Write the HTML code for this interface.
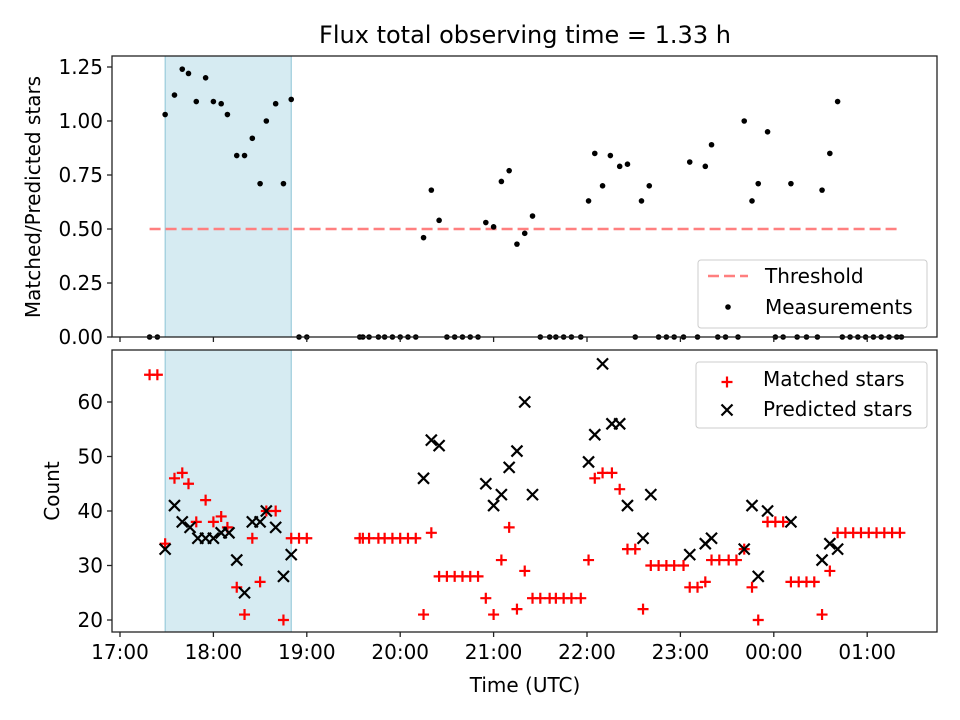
<!DOCTYPE html>
<html><head><meta charset="utf-8"><style>
body{margin:0;background:#fff}
svg{display:block;font-family:"DejaVu Sans","Liberation Sans",sans-serif}
</style></head><body>
<svg id="chart" width="960" height="720" viewBox="0 0 960 720"></svg>
<script>
// Time values in minutes since 17:00 UTC
const ratioZeroTimes=[19,24,115,120,154,156,160,166,170,175,180,185,190,210,215,220,225,230,270,276,280,285,290,296,331,346,351,356,362,371,384,389,397,421,426,435,441,448,464,469,474,479,484,489,494,499,502];
const ratioTimes=[29,35,40,44,49,55,60,65,69,75,80,85,90,94,100,105,110,195,200,205,235,240,245,250,255,260,265,301,305,310,315,321,326,335,340,366,376,380,401,406,410,416,431,451,456,461];
const ratioValues=[1.03,1.12,1.24,1.22,1.09,1.20,1.09,1.08,1.03,0.84,0.84,0.92,0.71,1.00,1.08,0.71,1.10,0.46,0.68,0.54,0.53,0.51,0.72,0.77,0.43,0.48,0.56,0.63,0.85,0.70,0.84,0.79,0.80,0.63,0.70,0.81,0.79,0.89,1.00,0.63,0.71,0.95,0.71,0.68,0.85,1.09];
const matchedTimes=[19,24,29,35,40,44,49,55,60,65,69,75,80,85,90,94,100,105,110,115,120,154,156,160,166,170,175,180,185,190,195,200,205,210,215,220,225,230,235,240,245,250,255,260,265,270,276,280,285,290,296,301,305,310,316,321,326,331,336,341,346,351,356,362,366,371,376,380,385,391,396,401,406,410,416,421,426,431,436,441,446,451,456,461,466,471,476,481,486,491,496,501];
const matchedValues=[65,65,34,46,47,45,38,42,38,39,37,26,21,35,27,40,40,20,35,35,35,35,35,35,35,35,35,35,35,35,21,36,28,28,28,28,28,28,24,21,31,37,22,29,24,24,24,24,24,24,24,31,46,47,47,44,33,33,22,30,30,30,30,30,26,26,27,31,31,31,31,33,26,20,38,38,38,27,27,27,27,21,29,36,36,36,36,36,36,36,36,36];
const predTimes=[29,35,40,45,50,55,60,65,70,75,80,85,90,94,100,105,110,195,200,205,235,240,245,250,255,260,265,301,305,310,316,321,326,336,341,366,376,380,401,406,410,416,431,451,456,461];
const predValues=[33,41,38,37,35,35,35,36,36,31,25,38,38,40,37,28,32,46,53,52,45,41,43,48,51,60,43,49,54,67,56,56,41,35,43,32,34,35,33,41,28,40,38,31,34,33];
const ratioTicks=[0,0.25,0.5,0.75,1.0,1.25];
const countTicks=[20,30,40,50,60];
const timeTicks=[0,60,120,180,240,300,360,420,480];
const timeTickLabels=["17:00","18:00","19:00","20:00","21:00","22:00","23:00","00:00","01:00"];
const threshold=0.5, thrStart=19, thrEnd=501, shadeStart=29, shadeEnd=110;

const NS="http://www.w3.org/2000/svg";
const svg=document.getElementById('chart');
function mk(tag,attrs,parent){const e=document.createElementNS(NS,tag);for(const k in attrs)e.setAttribute(k,attrs[k]);(parent||svg).appendChild(e);return e;}
const L=112,R=937;
const X=m=>120+m*93.4/60;
const Y1=v=>337-v*216;
const Y2=v=>620-(v-20)*5.45;
const T1=56,B1=337,T2=350,B2=632;
const FS=20;

const title=mk('text',{x:525,y:43,'text-anchor':'middle','font-size':'24'});title.textContent='Flux total observing time = 1.33 h';



[[T1,B1,'shade-top'],[T2,B2,'shade-bottom']].forEach(([t,b,n])=>{
 const r=mk('rect',{x:X(shadeStart),y:t,width:X(shadeEnd)-X(shadeStart),height:b-t,fill:'#add8e6','fill-opacity':'0.5',stroke:'#8cc4d6','stroke-width':'1'});
 
 
});

const th=mk('line',{x1:X(thrStart),x2:X(thrEnd),y1:Y1(threshold),y2:Y1(threshold),stroke:'#ff7f7f','stroke-width':'2.5','stroke-dasharray':'11,5'});



ratioTimes.forEach((t,i)=>{const c=mk('circle',{cx:X(t),cy:Y1(ratioValues[i]),r:2.8,fill:'#000'});
 
 });
ratioZeroTimes.forEach(t=>{const c=mk('circle',{cx:X(t),cy:Y1(0),r:2.8,fill:'#000'});
 
 });

matchedTimes.forEach((t,i)=>{const g=mk('path',{d:`M${X(t)-5.5},${Y2(matchedValues[i])}h11M${X(t)},${Y2(matchedValues[i])-5.5}v11`,stroke:'#f00','stroke-width':'2.2',fill:'none'});
 
 });
predTimes.forEach((t,i)=>{const x=X(t),y=Y2(predValues[i]);const g=mk('path',{d:`M${x-5.5},${y-5.5}l11,11M${x-5.5},${y+5.5}l11,-11`,stroke:'#000','stroke-width':'2.2',fill:'none'});
 
 });

[[T1,B1,'top-axes-frame'],[T2,B2,'bottom-axes-frame']].forEach(([t,b,n])=>{
 const r=mk('rect',{x:L,y:t,width:R-L,height:b-t,fill:'none',stroke:'#222','stroke-width':'1.3'});
 
 
});
timeTicks.forEach((m,i)=>{
 mk('line',{x1:X(m),x2:X(m),y1:B1,y2:B1+5,stroke:'#222','stroke-width':'1.3'});
 mk('line',{x1:X(m),x2:X(m),y1:B2,y2:B2+5,stroke:'#222','stroke-width':'1.3'});
 const tx=mk('text',{x:X(m),y:B2+27,'text-anchor':'middle','font-size':FS});tx.textContent=timeTickLabels[i];
 
 
});
ratioTicks.forEach(v=>{
 mk('line',{x1:L-5,x2:L,y1:Y1(v),y2:Y1(v),stroke:'#222','stroke-width':'1.3'});
 const tx=mk('text',{x:L-9,y:Y1(v)+7,'text-anchor':'end','font-size':FS});tx.textContent=v.toFixed(2);
 
 
});
countTicks.forEach(v=>{
 mk('line',{x1:L-5,x2:L,y1:Y2(v),y2:Y2(v),stroke:'#222','stroke-width':'1.3'});
 const tx=mk('text',{x:L-9,y:Y2(v)+7,'text-anchor':'end','font-size':FS});tx.textContent=v;
 
 
});
let a=mk('text',{x:525,y:692,'text-anchor':'middle','font-size':FS});a.textContent='Time (UTC)';


a=mk('text',{x:40,y:197,'text-anchor':'middle','font-size':FS,transform:'rotate(-90 40 197)'});a.textContent='Matched/Predicted stars';


a=mk('text',{x:59,y:491,'text-anchor':'middle','font-size':FS,transform:'rotate(-90 59 491)'});a.textContent='Count';



let lg=mk('rect',{x:698,y:260,width:229,height:68,rx:3,fill:'#fff','fill-opacity':'0.8',stroke:'#ccc'});


mk('line',{x1:708,x2:748,y1:276,y2:276,stroke:'#ff7f7f','stroke-width':'2.5','stroke-dasharray':'11,5'});
a=mk('text',{x:765,y:283,'font-size':FS});a.textContent='Threshold';


mk('circle',{cx:728,cy:307,r:2.8,fill:'#000'});
a=mk('text',{x:765,y:314,'font-size':FS});a.textContent='Measurements';



lg=mk('rect',{x:696,y:362,width:231,height:66,rx:3,fill:'#fff','fill-opacity':'0.8',stroke:'#ccc'});


mk('path',{d:'M721.5,382h11M727,376.5v11',stroke:'#f00','stroke-width':'2.2'});
a=mk('text',{x:763,y:386,'font-size':FS});a.textContent='Matched stars';


mk('path',{d:'M721.5,404.5l11,11M721.5,415.5l11,-11',stroke:'#000','stroke-width':'2.2'});
a=mk('text',{x:763,y:416,'font-size':FS});a.textContent='Predicted stars';


</script>
</body></html>
